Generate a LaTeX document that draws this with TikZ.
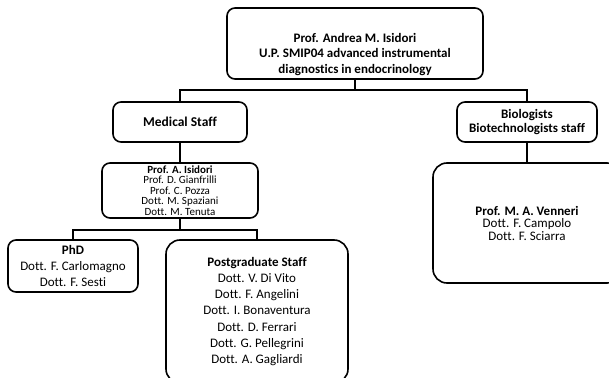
\documentclass[tikz,border=0pt]{standalone}
\usepackage{fontspec}
\setmainfont{Carlito}[Ligatures=NoCommon]
\usepackage{tikz}

\tikzset{
  box/.style={draw, line width=1.6pt, rounded corners=8pt, align=center, inner sep=2pt},
  bigbox/.style={box, rounded corners=14pt},
  link/.style={line width=1.6pt},
}
\newcommand{\fsz}[2]{\fontsize{#1}{#2}\selectfont}

\begin{document}
\begin{tikzpicture}[x=1pt,y=-1pt]
\useasboundingbox (0,0) rectangle (609,377);
\clip (0,0) rectangle (609,377);
% boxes
\node[box, minimum width=256pt, minimum height=71pt, font=\bfseries\fsz{13}{15.7}] (root) at (355,43.5)
  {\rule{0pt}{31pt}Prof. Andrea M. Isidori\\U.P. SMIP04 advanced instrumental\\diagnostics in endocrinology};
\node[box, minimum width=134pt, minimum height=40pt, font=\bfseries\fsz{13.5}{16}] (med) at (180,122) {Medical Staff};
\node[box, minimum width=140pt, minimum height=40pt, font=\bfseries\fsz{13}{13.5}] (bio) at (527,122) {Biologists\\Biotechnologists staff};
\node[box, minimum width=156pt, minimum height=55pt, font=\fsz{11}{10.5}] (isi) at (180,190.5)
  {\textbf{Prof. A. Isidori}\\Prof. D. Gianfrilli\\Prof. C. Pozza\\Dott. M. Spaziani\\Dott. M. Tenuta};
\node[box, minimum width=130pt, minimum height=52pt, font=\fsz{13}{16}] (phd) at (73,266)
  {\textbf{PhD}\\Dott. F. Carlomagno\\Dott. F. Sesti};
\node[bigbox, minimum width=182pt, minimum height=143pt, font=\fsz{13}{16.2}] (pg) at (257,311.5)
  {\textbf{Postgraduate Staff}\\Dott. V. Di Vito\\Dott. F. Angelini\\Dott. I. Bonaventura\\Dott. D. Ferrari\\Dott. G. Pellegrini\\Dott. A. Gagliardi};
\node[bigbox, minimum width=188pt, minimum height=120pt, font=\fsz{13}{12.5}] (venn) at (527,223)
  {\textbf{Prof. M. A. Venneri}\\Dott. F. Campolo\\Dott. F. Sciarra};
% connectors
\coordinate (bus1) at (355,90);
\coordinate (bus2) at (180,230);
\draw[link] (root.south) -- (bus1);
\draw[link] (med.north) |- (bus1) -| (bio.north);
\draw[link] (med.south) -- (isi.north);
\draw[link] (bio.south) -- (venn.north);
\draw[link] (isi.south) -- (bus2);
\draw[link] (phd.north) |- (bus2) -| (pg.north);
\end{tikzpicture}
\end{document}
